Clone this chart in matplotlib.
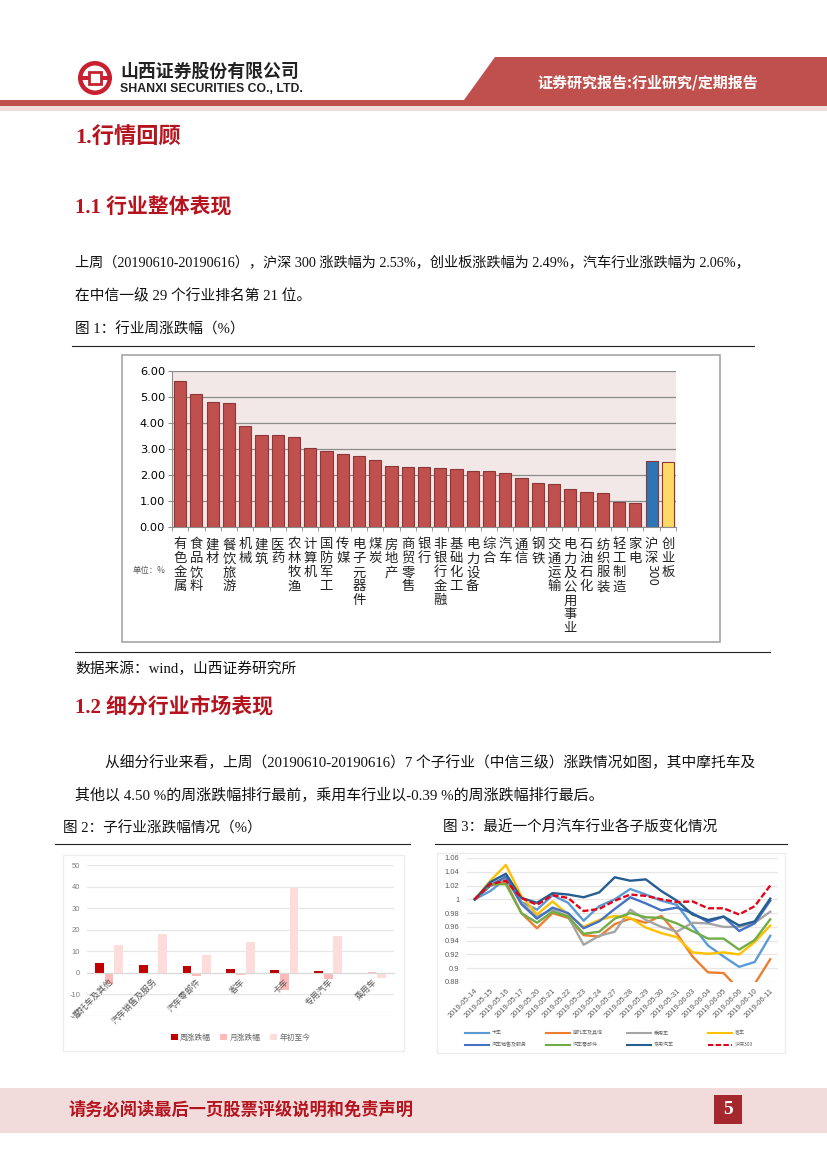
import matplotlib
matplotlib.use('Agg')
import matplotlib.pyplot as plt
from matplotlib.patches import Circle, Polygon, Rectangle

plt.rcParams['font.family'] = ['Noto Sans CJK SC', 'DejaVu Sans']

W, H = 827, 1169

# Fig 1: weekly industry change
ind_names = ['有色金属', '食品饮料', '建材', '餐饮旅游', '机械', '建筑', '医药', '农林牧渔',
             '计算机', '国防军工', '传媒', '电子元器件', '煤炭', '房地产', '商贸零售', '银行',
             '非银行金融', '基础化工', '电力设备', '综合', '汽车', '通信', '钢铁', '交通运输',
             '电力及公用事业', '石油石化', '纺织服装', '轻工制造', '家电', '沪深', '创业板']
ind_values = [5.63, 5.12, 4.82, 4.78, 3.87, 3.55, 3.53, 3.48, 3.03, 2.92, 2.79, 2.75, 2.58,
              2.33, 2.31, 2.29, 2.26, 2.24, 2.14, 2.14, 2.06, 1.87, 1.69, 1.66, 1.45, 1.35,
              1.32, 0.98, 0.91, 2.53, 2.49]
ind_ticks = [0, 1, 2, 3, 4, 5, 6]

# Fig 2: sub-industry change
sub_names = ['摩托车及其他', '汽车销售及服务', '汽车零部件', '客车', '卡车', '专用汽车', '乘用车']
sub_week = [4.5, 3.5, 3.0, 1.7, 1.3, 0.8, -0.39]
sub_month = [-5.0, -0.2, -1.3, -1.2, -8.0, -2.7, 0.2]
sub_ytd = [13.0, 18.0, 8.2, 14.5, 39.5, 17.2, -2.6]
sub_ticks = [-20, -10, 0, 10, 20, 30, 40, 50]

# Fig 3: sub-sector index over the last month
dates = ['2019-05-14', '2019-05-15', '2019-05-16', '2019-05-17', '2019-05-20', '2019-05-21',
         '2019-05-22', '2019-05-23', '2019-05-24', '2019-05-27', '2019-05-28', '2019-05-29',
         '2019-05-30', '2019-05-31', '2019-06-03', '2019-06-04', '2019-06-05', '2019-06-06',
         '2019-06-10', '2019-06-11']
truck = [1, 1.012, 1.030, 0.996, 0.985, 1.006, 0.995, 0.969, 0.990, 1.000, 1.015, 1.007,
         0.998, 0.992, 0.962, 0.933, 0.917, 0.902, 0.909, 0.947]
moto = [1, 1.020, 1.025, 0.980, 0.958, 0.980, 0.973, 0.948, 0.946, 0.964, 0.972, 0.966,
        0.976, 0.950, 0.917, 0.894, 0.893, 0.869, 0.877, 0.913]
passenger = [1, 1.022, 1.030, 0.995, 0.975, 0.985, 0.975, 0.934, 0.947, 0.953, 0.985, 0.970,
             0.960, 0.953, 0.966, 0.965, 0.960, 0.960, 0.966, 0.982]
bus = [1, 1.027, 1.050, 1.005, 0.978, 0.997, 0.978, 0.960, 0.970, 0.976, 0.973, 0.959,
       0.951, 0.945, 0.923, 0.921, 0.923, 0.920, 0.938, 0.962]
sales = [1, 1.020, 1.033, 0.993, 0.972, 0.988, 0.980, 0.958, 0.968, 0.986, 1.003, 0.994,
         0.984, 0.988, 0.980, 0.967, 0.975, 0.954, 0.965, 0.998]
parts = [1, 1.022, 1.022, 0.980, 0.966, 0.982, 0.975, 0.950, 0.953, 0.972, 0.980, 0.974,
         0.973, 0.965, 0.954, 0.943, 0.943, 0.927, 0.941, 0.971]
special = [1, 1.025, 1.037, 1.002, 0.995, 1.009, 1.007, 1.003, 1.010, 1.032, 1.027, 1.029,
           1.012, 0.998, 0.978, 0.970, 0.975, 0.962, 0.968, 1.001]
hs300 = [1, 1.022, 1.027, 1.002, 0.992, 1.006, 1.002, 0.983, 0.986, 0.998, 1.007, 1.005,
         1.000, 0.996, 0.997, 0.987, 0.987, 0.978, 0.990, 1.020]
line_ticks = [0.88, 0.9, 0.92, 0.94, 0.96, 0.98, 1, 1.02, 1.04, 1.06]

RED = '#C0504D'
TITLE = '#B5141E'
BODY = ['Liberation Serif', 'Noto Sans CJK SC']


def px_axes(x0, y0, x1, y1):
    # axes from pixel box, y counted from the top of the page
    return fig.add_axes([x0 / W, 1 - y1 / H, (x1 - x0) / W, (y1 - y0) / H], zorder=2)


fig = plt.figure(figsize=(W / 100, H / 100), dpi=100, facecolor='white')

# page furniture
page = fig.add_axes([0, 0, 1, 1], zorder=1)
page.set_xlim(0, W)
page.set_ylim(H, 0)
page.axis('off')

page.add_patch(Rectangle((0, 100), W, 6, color=RED, lw=0))
page.add_patch(Rectangle((0, 106), W, 5, color='#F2DCDB', lw=0))
page.add_patch(Polygon([(464, 100), (495, 57), (W, 57), (W, 106), (464, 106)], color=RED, lw=0))
page.add_patch(Circle((95, 78), 17, color='#C8202F', lw=0))
page.add_patch(Circle((95, 78), 12.5, color='white', lw=0))
page.add_patch(Rectangle((89, 72), 12, 12, fc='white', ec='#C8202F', lw=2))
page.add_patch(Rectangle((78, 76), 11, 3.5, color='#C8202F', lw=0))
page.add_patch(Rectangle((101, 76), 11, 3.5, color='#C8202F', lw=0))
page.text(120, 72, '山西证券股份有限公司', fontsize=12.9, fontweight='bold', color='#222222', va='center')
page.text(120, 89, 'SHANXI SECURITIES CO., LTD.', fontsize=8.8, fontweight='bold', color='#222222',
          va='center', family='Liberation Sans')
page.text(648, 83, '证券研究报告:行业研究/定期报告', fontsize=10.8, fontweight='bold', color='white',
          ha='center', va='center')

page.text(75, 138, '1.行情回顾', fontsize=16, fontweight='bold', color=TITLE, va='center', family=BODY)
page.text(75, 208, '1.1 行业整体表现', fontsize=15, fontweight='bold', color=TITLE, va='center', family=BODY)
page.text(75, 707, '1.2 细分行业市场表现', fontsize=15, fontweight='bold', color=TITLE, va='center', family=BODY)

body = [
    (75, 263, 10.2, '上周\uff0820190610-20190616\uff09\uff0c沪深 300 涨跌幅为 2.53%\uff0c创业板涨跌幅为 2.49%\uff0c汽车行业涨跌幅为 2.06%\uff0c'),
    (75, 296, 10.6, '在中信一级 29 个行业排名第 21 位。'),
    (105, 763, 10.6, '从细分行业来看\uff0c上周\uff0820190610-20190616\uff097 个子行业\uff08中信三级\uff09涨跌情况如图\uff0c其中摩托车及'),
    (75, 795, 10.8, '其他以 4.50 %的周涨跌幅排行最前\uff0c乘用车行业以-0.39 %的周涨跌幅排行最后。'),
]
for x, y, fs, s in body:
    page.text(x, y, s, fontsize=fs, color='#111111', va='center', family=BODY)

page.text(75, 329, '图 1\uff1a行业周涨跌幅\uff08%\uff09', fontsize=10.5, color='#111111', va='center', family=BODY)
page.text(75, 669, '数据来源\uff1awind\uff0c山西证券研究所', fontsize=10.6, color='#111111', va='center', family=BODY)
page.text(63, 828, '图 2\uff1a子行业涨跌幅情况\uff08%\uff09', fontsize=10.5, color='#111111', va='center', family=BODY)
page.text(443, 828, '图 3\uff1a最近一个月汽车行业各子版变化情况', fontsize=10.5, color='#111111', va='center', family=BODY)
page.plot([72, 754], [346, 346], color='#222222', lw=0.8)
page.plot([75, 770], [652, 652], color='#222222', lw=0.8)
page.plot([55, 410], [844, 844], color='#222222', lw=0.8)
page.plot([435, 787], [844, 844], color='#222222', lw=0.8)

page.add_patch(Rectangle((122, 355), 598, 287, fc='white', ec='#A6A6A6', lw=1.2))
page.add_patch(Rectangle((63, 855), 341, 196, fc='white', ec='#EDEDED', lw=1))
page.add_patch(Rectangle((437, 853), 348, 200, fc='white', ec='#EDEDED', lw=1))

page.add_patch(Rectangle((0, 1088), W, 45, color='#F2DCDB', lw=0))
page.text(68, 1110, '请务必阅读最后一页股票评级说明和免责声明', fontsize=12.4, fontweight='bold',
          color='#B5141E', va='center')
page.add_patch(Rectangle((714, 1095), 28, 29, color='#A5282C', lw=0))
page.text(728, 1109, '5', fontsize=14, fontweight='bold', color='white', ha='center', va='center',
          family='Liberation Serif')
page.text(133, 570, '单位\uff1a%', fontsize=6, color='#555555', va='center')

# Fig 1
ax1 = px_axes(172, 371, 676, 527)
pos1 = list(range(len(ind_names)))
colors1 = [RED] * 29 + ['#2E75B6', '#FFD966']
ax1.set_axisbelow(True)
ax1.bar(pos1, ind_values, width=0.75, color=colors1, edgecolor='#8C3836', linewidth=0.8)
ax1.set_xlim(-0.5, 30.5)
ax1.set_ylim(0, 6)
ax1.set_facecolor('#F2E8E8')
ax1.set_yticks(ind_ticks)
ax1.set_yticklabels(['%.2f' % t for t in ind_ticks], fontsize=8.2, family='DejaVu Sans')
ax1.grid(axis='y', color='#8C8C8C', lw=0.9)
ax1.set_xticks(pos1)
ax1.set_xticklabels(['\n'.join(n) for n in ind_names], fontsize=9.6, linespacing=1.0,
                    va='top', color='#222222')
ax1.set_xticks([p - 0.5 for p in pos1] + [30.5], minor=True)
ax1.tick_params(axis='x', which='major', length=0, pad=7.5)
ax1.tick_params(axis='x', which='minor', length=3, color='#8C8C8C')
ax1.tick_params(axis='y', length=3, color='#8C8C8C', pad=2)
for s in ['top', 'right']:
    ax1.spines[s].set_visible(False)
for s in ['left', 'bottom']:
    ax1.spines[s].set_color('#8C8C8C')
ax1.text(29, -1.42, '300', rotation=-90, ha='center', va='top', fontsize=8.3,
         family='DejaVu Sans', color='#222222')

# Fig 2
ax2 = px_axes(87, 865, 394, 1016)
pos2 = list(range(len(sub_names)))
bw = 0.2
off = 0.22
# moving the spine resets the ticks, so it has to come first
ax2.spines['bottom'].set_position(('data', 0))
ax2.spines['bottom'].set_color('#D9D9D9')
for s in ['top', 'right', 'left']:
    ax2.spines[s].set_visible(False)
# category labels go over the bars, grid stays under them
ax2.set_axisbelow(False)
for t in sub_ticks:
    ax2.axhline(t, color='#E6E6E6', lw=0.9, zorder=0)
ax2.bar([p - off for p in pos2], sub_week, bw, color='#C00000', label='周涨跌幅')
ax2.bar(pos2, sub_month, bw, color='#FFB9B9', label='月涨跌幅')
ax2.bar([p + off for p in pos2], sub_ytd, bw, color='#FFDCDC', label='年初至今')
ax2.set_xlim(-0.5, 6.5)
ax2.set_ylim(-20, 50)
ax2.set_yticks(sub_ticks)
ax2.set_yticklabels([str(t) for t in sub_ticks], fontsize=5.5, color='#7F7F7F', family='Liberation Sans')
ax2.set_xticks(pos2)
ax2.set_xticklabels(sub_names, fontsize=6.2, color='#595959', rotation=45, ha='right', rotation_mode='anchor')
ax2.tick_params(length=0)
ax2.tick_params(axis='y', pad=5)
ax2.tick_params(axis='x', pad=3)
ax2.legend(loc='upper center', bbox_to_anchor=(0.5, -0.07), ncol=3, frameon=False, fontsize=5.6,
           labelcolor='#666666', handlelength=0.9, handleheight=0.9, handletextpad=0.3, columnspacing=1.2)

# Fig 3
ax3 = px_axes(467, 858, 778, 982)
series = [
    (truck, '卡车', '#5B9BD5', '-'),
    (moto, '摩托车及其他', '#ED7D31', '-'),
    (passenger, '乘用车', '#A5A5A5', '-'),
    (bus, '客车', '#FFC000', '-'),
    (sales, '汽车销售及服务', '#4472C4', '-'),
    (parts, '汽车零部件', '#70AD47', '-'),
    (special, '专用汽车', '#255E91', '-'),
    (hs300, '沪深300', '#E3051B', (0, (2.6, 1.1))),
]
pos3 = list(range(len(dates)))
ax3.set_axisbelow(True)
for vals, name, c, ls in series:
    ax3.plot(pos3, vals, color=c, ls=ls, lw=1.7)
ax3.set_xlim(-0.5, 19.5)
ax3.set_ylim(0.88, 1.06)
ax3.set_yticks(line_ticks)
ax3.set_yticklabels(['%g' % t for t in line_ticks], fontsize=5.4, color='#595959', family='Liberation Sans')
ax3.grid(axis='y', color='#E6E6E6', lw=0.9)
ax3.set_xticks(pos3)
ax3.set_xticklabels(dates, fontsize=5.4, color='#595959', rotation=45, ha='right', rotation_mode='anchor',
                    family='Liberation Sans')
ax3.tick_params(axis='x', length=0, pad=4)
ax3.tick_params(axis='y', length=0, pad=5.5)
for s in ['top', 'right', 'left', 'bottom']:
    ax3.spines[s].set_visible(False)

# legend in two even rows, columns 81 px apart
for i, (vals, name, c, ls) in enumerate(series):
    lx = 465 + 81 * (i % 4)
    ly = 1033 + 11.5 * (i // 4)
    page.plot([lx, lx + 24], [ly, ly], color=c, ls=ls, lw=1.5)
    page.text(lx + 27, ly, name, fontsize=3.6, color='#666666', va='center')

fig.savefig('out.png', dpi=100)
